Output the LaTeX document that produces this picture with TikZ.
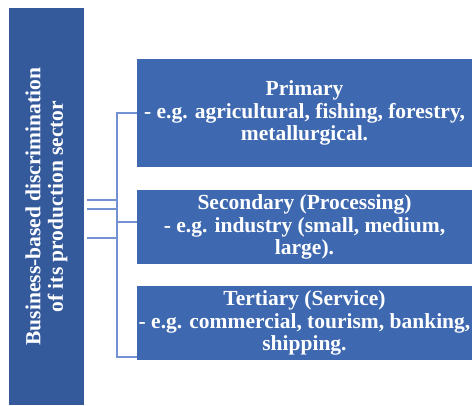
\documentclass[tikz,border=0pt]{standalone}
\usepackage{fontspec}
\setmainfont{Liberation Serif}
\usetikzlibrary{positioning}
\definecolor{mainblue}{HTML}{345A9C}
\definecolor{sectorblue}{HTML}{3E68B0}
\definecolor{linkblue}{HTML}{7391D3}

\begin{document}
\begin{tikzpicture}[x=1pt,y=1pt,
  mainbox/.style={fill=mainblue, text=white, font=\bfseries\fontsize{21.5}{22.5}\selectfont,
    align=center, inner sep=0pt, rotate=90, minimum width=397pt, minimum height=75pt},
  sectorbox/.style={fill=sectorblue, text=white, font=\bfseries\fontsize{21.5}{22.5}\selectfont,
    align=center, inner sep=0pt, minimum width=335pt},
  link/.style={draw=linkblue, line width=2pt}]
\useasboundingbox (0,0) rectangle (472,-405);

% main box
\node[mainbox] (main) at (46.5,-206.5) {Business-based discrimination\\of its production sector};

% sectors
\node[sectorbox, minimum height=108pt] (prim) at (304.5,-113)
  {Primary\\- e.g. agricultural, fishing, forestry,\\metallurgical.};
\node[sectorbox, minimum height=74pt] (sec) at (304.5,-227)
  {Secondary (Processing)\\- e.g. industry (small, medium,\\large).};
\node[sectorbox, minimum height=74pt] (ter) at (304.5,-323)
  {Tertiary (Service)\\- e.g. commercial, tourism, banking,\\shipping.};

% bracket
\coordinate (top) at (117,-113);
\coordinate (bot) at (117,-357);
\coordinate (secjoin) at (117,-222);
\coordinate (s1) at (117,-200);
\coordinate (s2) at (117,-209);
\coordinate (s3) at (117,-238);
\draw[link] (prim.west) -- (top) -- (bot) -- (bot -| ter.west);
\draw[link] (secjoin) -- (secjoin -| sec.west);
\foreach \s in {s1,s2,s3}
  \draw[link] ([xshift=3pt]main.south |- \s) -- (\s);
\end{tikzpicture}
\end{document}
